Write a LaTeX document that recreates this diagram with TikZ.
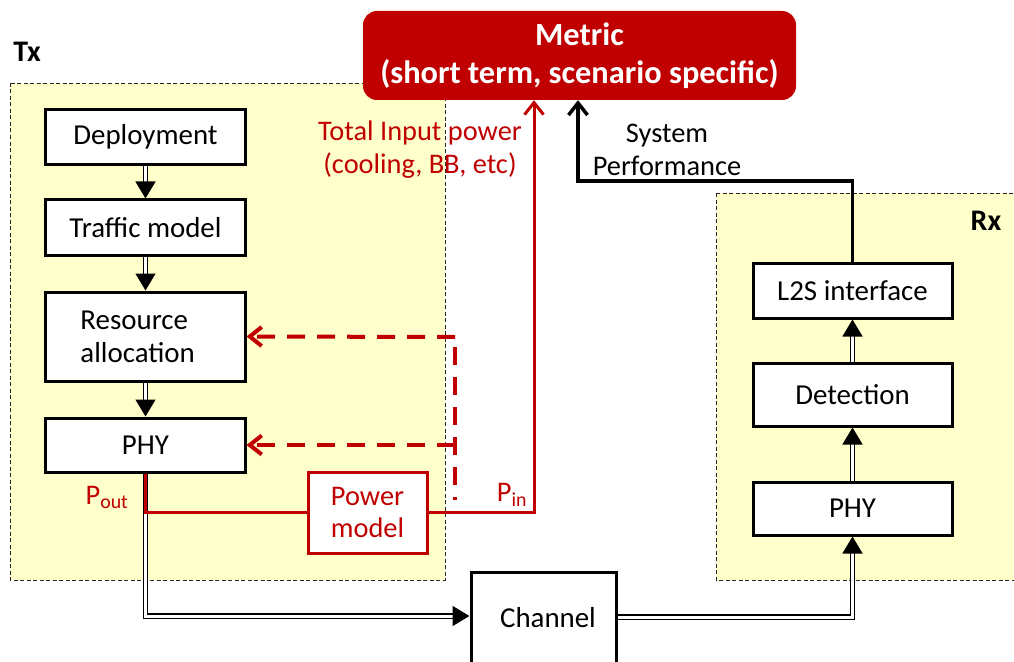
\documentclass[tikz,border=0pt]{standalone}
\usepackage{fontspec}
\setmainfont{Carlito}
\usetikzlibrary{arrows.meta}
\definecolor{dred}{HTML}{C00000}
\definecolor{ylw}{HTML}{FFFFCC}
\begin{document}
\begin{tikzpicture}[x=1bp,y=-1bp,
  every node/.style={font=\fontsize{28.5}{33}\selectfont},
  box/.style={draw, line width=3bp, fill=white, minimum width=199bp, inner sep=0pt, font=\fontsize{29}{33}\selectfont},
  pbox/.style={draw=dred, text=dred, line width=3bp, fill=white, minimum width=119bp, minimum height=81bp, inner sep=0pt, align=center},
  region/.style={draw=black!85, line width=0.8bp, dash pattern=on 4bp off 2.5bp, fill=ylw},
  dbl/.style={draw, double=white, double distance=3bp, line width=1.3bp, -{Triangle[length=17bp,width=20bp]}},
  redl/.style={draw=dred, line width=3bp},
  blk/.style={draw=black, line width=3.5bp},
  dashr/.style={draw=dred, line width=4bp, dash pattern=on 18bp off 12bp},
  barb/.style={-{Straight Barb[length=12bp,width=19bp]}},
  lbl/.style={font=\bfseries\fontsize{30}{32}\selectfont}]
\useasboundingbox (0,0) rectangle (1014,662);
\draw[region] (10,83) rectangle (445,580);
\draw[region] (716,193) rectangle (1030,580);
\node[lbl] (tx) at (27,52) {Tx};
\node[lbl] (rx) at (986,221) {Rx};
\node[fill=dred, text=white, rounded corners=14bp, minimum width=433bp, minimum height=89bp, inner sep=0pt, align=center, font=\bfseries\fontsize{32.5}{38}\selectfont] (metric) at (579.5,55.5) {Metric\\(short term, scenario specific)};
% Tx chain
\node[box, minimum height=54bp] (dep) at (145.5,137) {Deployment\hspace{15bp}};
\node[box, minimum height=55bp] (traf) at (145.5,227.5) {Traffic model\hspace{14bp}};
\node[box, minimum height=89bp, text width=130bp, align=left] (res) at (145.5,336.5) {Resource\\allocation};
\node[box, minimum height=54bp] (phyt) at (145.5,445) {PHY\hspace{14bp}};
\node[pbox] (pm) at (367.5,512.5) {Power\\model};
\node[box, minimum width=145bp, minimum height=100bp] (chan) at (543.5,622) {\raisebox{9bp}{\hspace{9bp}Channel}};
% Rx chain
\node[box, minimum height=55bp] (l2s) at (852.5,290.5) {L2S interface\hspace{7bp}};
\node[box, minimum height=63bp] (det) at (852.5,394.5) {Detection\hspace{13bp}};
\node[box, minimum height=53bp] (phyr) at (852.5,508.5) {PHY\hspace{15bp}};
% labels
\node[text=dred, align=center] (tip) at (420,150) {Total Input power\\(cooling, BB, etc)};
\node[align=center] (sp) at (667,150) {System\\Performance};
\node[text=dred] (pout) at (107,497) {P\textsubscript{out}};
\node[text=dred] (pin) at (512,495) {P\textsubscript{in}};
% connectors
\draw[dbl] (dep) -- (traf);
\draw[dbl] (traf) -- (res);
\draw[dbl] (res) -- (phyt);
\draw[dbl] (phyt.south) |- (chan.west |- 0,616);
\draw[dbl] (chan.east |- 0,617) -| (phyr.south);
\draw[dbl] (phyr) -- (det);
\draw[dbl] (det) -- (l2s);
\draw[redl] (phyt.south) |- (pm.west);
\draw[redl, barb] (pm.east) -| (metric.south -| 534,0);
\draw[blk, barb] (l2s.north) |- (578,181) -- (metric.south -| 578,0);
\coordinate (fbt) at (455,337);
\coordinate (fbb) at (455,500);
\draw[dashr, dash phase=-10bp] (fbt) -- (fbb);
\draw[dashr, barb] (fbt) -- (res.east);
\draw[dashr, barb] (fbt |- phyt.east) -- (phyt.east);
\end{tikzpicture}
\end{document}
